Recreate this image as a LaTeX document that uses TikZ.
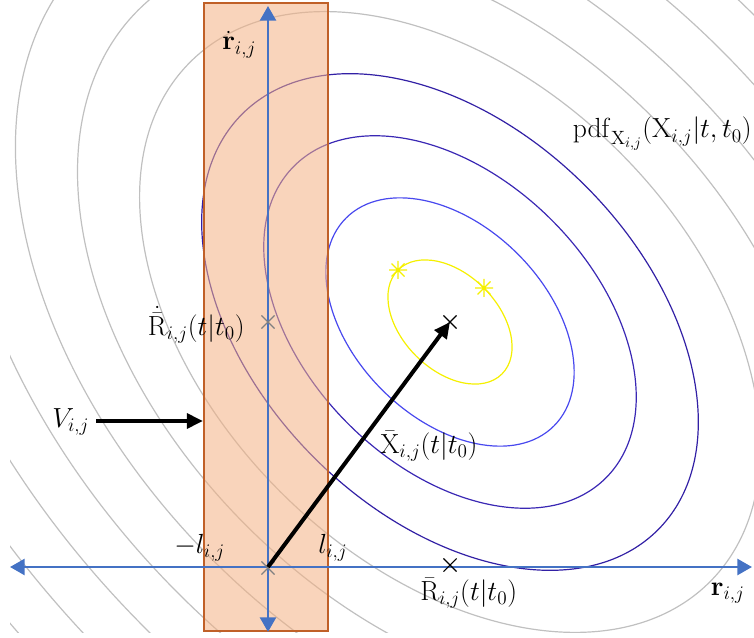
\documentclass[tikz,border=0pt]{standalone}
\usetikzlibrary{arrows.meta,shapes.misc}
\definecolor{peach}{RGB}{244,177,131}
\definecolor{rectedge}{RGB}{192,96,40}
\definecolor{axisblue}{RGB}{68,114,196}
\definecolor{cgray}{RGB}{192,192,192}
\definecolor{cyellow}{RGB}{245,240,0}
\definecolor{cblue}{RGB}{72,72,238}
\definecolor{cindigo}{RGB}{58,40,180}
\definecolor{cdeep}{RGB}{50,32,165}
\begin{document}
\begin{tikzpicture}[x=0.75pt,y=-0.75pt,
  contour/.style={line width=0.9pt, shift={(450,322)}, rotate=-45},
  lbl/.style={font=\fontsize{21}{25}\selectfont, inner sep=0pt, anchor=base west},
  axisline/.style={draw=axisblue, line width=1.9pt, {Triangle[length=11pt,width=12pt]}-{Triangle[length=11pt,width=12pt]}},
  bigarrow/.style={line width=3pt, -{Triangle[length=12pt,width=11pt]}},
  xmark/.style={cross out, draw=#1, line width=0.8pt, minimum size=9pt, inner sep=0pt},
  ystar/.pic={\draw[cyellow, line width=1pt] (-9,0) -- (9,0) (0,-9) -- (0,9) (-6.5,-6.5) -- (6.5,6.5) (-6.5,6.5) -- (6.5,-6.5);}
]
\useasboundingbox (0,0) rectangle (754,638);

% contours
\begin{scope}
  \clip (10,0) rectangle (754,632);
  \foreach \k in {5,...,14} {
    \draw[cgray, contour] (0,0) ellipse [x radius=73.5*\k, y radius=48*\k];
  }
  \draw[cdeep, contour] (0,0) ellipse [x radius=294, y radius=192];
  \draw[cindigo, contour] (0,0) ellipse [x radius=220.5, y radius=144];
  \draw[cblue, contour] (0,0) ellipse [x radius=147, y radius=96];
  \draw[cyellow, contour] (0,0) ellipse [x radius=73.5, y radius=48];
\end{scope}

% band
\node[draw=rectedge, line width=1.6pt, fill=peach, fill opacity=0.55, draw opacity=1,
      minimum width=93pt, minimum height=471pt, inner sep=0pt] (band) at (266,317) {};

% axes
\coordinate (O) at (268,567);
\coordinate (hl) at (10,567);
\coordinate (hr) at (752,567);
\coordinate (vt) at (268,6);
\coordinate (vb) at (268,632);
\draw[axisline] (hl) -- (hr);
\draw[axisline] (vb) -- (vt);

% marks
\node[xmark=gray] (mO) at (268,568) {};
\node[xmark=gray] (mRd) at (268,322) {};
\node[xmark=black] (mX) at (450,322) {};
\node[xmark=black] (mR) at (450,565) {};
\pic (s1) at (398,270) {ystar};
\pic (s2) at (484,288) {ystar};

% arrows
\draw[bigarrow] (O) -- (mX.center);
\coordinate (Vs) at (96,421);
\draw[bigarrow] (Vs) -- (Vs -| band.west);

% labels
\node[lbl] (lrd) at (222,50) {$\dot{\mathbf{r}}_{i,j}$};
\node[lbl, anchor=base east] (lpdf) at (752,138) {$\mathrm{pdf}_{\mathrm{X}_{i,j}}(\mathrm{X}_{i,j}|t,t_0)$};
\node[lbl, anchor=base east] (lRd) at (245,335) {$\dot{\bar{\mathrm{R}}}_{i,j}(t|t_0)$};
\node[lbl] (lV) at (52,427) {$V_{i,j}$};
\node[lbl] (lX) at (380,453) {$\bar{\mathrm{X}}_{i,j}(t|t_0)$};
\node[lbl] (lml) at (174,553) {$-l_{i,j}$};
\node[lbl] (ll) at (318,553) {$l_{i,j}$};
\node[lbl] (lR) at (420,600) {$\bar{\mathrm{R}}_{i,j}(t|t_0)$};
\node[lbl, anchor=base east] (lr) at (745,595) {$\mathbf{r}_{i,j}$};
\end{tikzpicture}
\end{document}
